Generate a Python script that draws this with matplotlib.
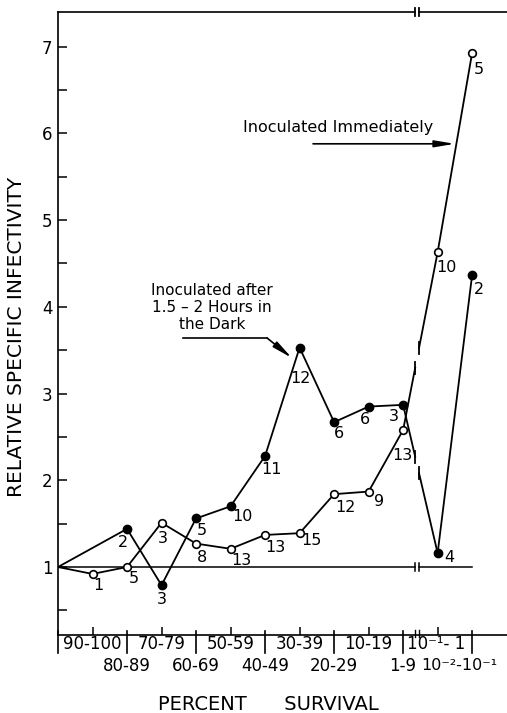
import matplotlib
matplotlib.use('Agg')
import matplotlib.pyplot as plt

# survival classes, in plotting order (index 1..12 along the x axis)
classes = ['90-100', '80-89', '70-79', '60-69', '50-59', '40-49',
           '30-39', '20-29', '10-19', '1-9', '10\u207b\u00b9- 1', '10\u207b\u00b2-10\u207b\u00b9']

# inoculated after 1.5 - 2 hours in the dark (filled dots)
dark_x = [0, 2, 3, 4, 5, 6, 7, 8, 9, 10, 11, 12]
dark_y = [1.0, 1.44, 0.79, 1.56, 1.70, 2.28, 3.53, 2.67, 2.85, 2.87, 1.16, 4.37]
dark_n = ['', '2', '3', '5', '10', '11', '12', '6', '6', '3', '4', '2']

# inoculated immediately (open circles)
imm_x = [0, 1, 2, 3, 4, 5, 6, 7, 8, 9, 10, 11, 12]
imm_y = [1.0, 0.92, 1.00, 1.51, 1.27, 1.21, 1.37, 1.39, 1.84, 1.87, 2.58, 4.63, 6.93]
imm_n = ['', '1', '5', '3', '8', '13', '13', '15', '12', '9', '13', '10', '5']

# where the number of plants sits relative to each point (pixels)
dark_off = [None, (-4, -14), (0, -14), (6, -12), (12, -10), (6, -13), (1, -31),
            (5, -11), (-4, -13), (-9, -12), (12, -4), (7, -15)]
imm_off = [None, (6, -12), (7, -11), (1, -16), (6, -14), (11, -12), (10, -13),
           (12, -7), (11, -13), (10, -10), (-1, -26), (9, -15), (7, -17)]

plt.rcParams['font.family'] = ['DejaVu Sans']

fig = plt.figure(figsize=(5.07, 7.13), dpi=100)
ax = fig.add_axes([58 / 507, 78 / 713, 449 / 507, 623 / 713])
ax.set_xlim(0, 13.01)
ax.set_ylim(0.216, 7.40)

BRK_A, BRK_B = 10.35, 10.46
lw = 1.3
xt = ax.get_xaxis_transform()

# spines: left and bottom kept, top drawn by hand with a break
ax.spines['right'].set_visible(False)
ax.spines['top'].set_visible(False)
for s in ['left', 'bottom']:
    ax.spines[s].set_linewidth(1.2)
ax.plot([0, BRK_A], [1, 1], transform=xt, color='k', lw=1.2, clip_on=False)
ax.plot([BRK_B, 13.01], [1, 1], transform=xt, color='k', lw=1.2, clip_on=False)
for bx in (BRK_A, BRK_B):
    ax.plot([bx, bx], [0.994, 1.006], transform=xt, color='k', lw=1.3, clip_on=False)
    ax.plot([bx, bx], [-0.004, 0.008], transform=xt, color='k', lw=1.0, clip_on=False)

# y ticks
ax.set_yticks(range(1, 8))
ax.set_yticklabels(['1', '2', '3', '4', '5', '6', '7'])
ax.set_yticks([0.5 + i for i in range(7)], minor=True)
ax.tick_params(axis='y', which='both', direction='in', length=6.5, width=1.1,
               labelsize=12, pad=4)

# x ticks: short inward ticks mid-class, long boundary marks drawn by hand
ax.set_xticks([])
ax.set_xticks([1, 3, 5, 7, 9, 11], minor=True)
ax.tick_params(axis='x', which='minor', direction='in', length=5.8, width=1.1)
for bx in range(0, 13, 2):
    ax.plot([bx, bx], [0.006, -0.029], transform=xt, color='k', lw=1.2, clip_on=False)

# class labels in two staggered rows
for i, lab in enumerate(classes):
    pos = i + 1
    dy = -9 if pos % 2 == 1 else -31
    if i == 10:
        # squeezed in just right of the boundary mark
        ax.annotate(lab, xy=(pos - 1, 0), xycoords=xt, xytext=(4, dy),
                    textcoords='offset pixels', ha='left', va='center',
                    fontsize=12, annotation_clip=False)
        continue
    ax.annotate(lab, xy=(pos, 0), xycoords=xt, xytext=(-13 if i == 11 else 0, dy),
                textcoords='offset pixels', ha='center', va='center',
                fontsize=12 if i < 10 else 11.5, annotation_clip=False)

# reference line at 1 with its break
ax.plot([0, BRK_A], [1, 1], color='k', lw=1.1)
ax.plot([BRK_B, 12], [1, 1], color='k', lw=1.1)
for bx in (BRK_A, BRK_B):
    ax.plot([bx, bx], [0.955, 1.045], color='k', lw=1.1)


def broken_line(x, y, i, **kw):
    """Draw x/y as a polyline, with the segment i -> i+1 broken at the axis break."""
    ax.plot(x[:i + 1], y[:i + 1], **kw)
    ax.plot(x[i + 1:], y[i + 1:], **kw)
    x0, y0, x1, y1 = x[i], y[i], x[i + 1], y[i + 1]
    ya = y0 + (y1 - y0) * (BRK_A - x0) / (x1 - x0)
    yb = y0 + (y1 - y0) * (BRK_B - x0) / (x1 - x0)
    ax.plot([x0, BRK_A], [y0, ya], **kw)
    ax.plot([BRK_B, x1], [yb, y1], **kw)
    for bx, by in ((BRK_A, ya), (BRK_B, yb)):
        ax.plot([bx, bx], [by - 0.07, by + 0.07], **kw)


broken_line(dark_x, dark_y, dark_x.index(10), color='k', lw=lw)
broken_line(imm_x, imm_y, imm_x.index(10), color='k', lw=lw)

ax.plot(dark_x[1:], dark_y[1:], 'o', ms=6, color='k', zorder=5)
ax.plot(imm_x[1:], imm_y[1:], 'o', ms=5.5, mfc='white', mec='k', mew=1.2, zorder=5)

for x, y, n, off in zip(dark_x, dark_y, dark_n, dark_off):
    if n:
        ax.annotate(n, (x, y), xytext=off, textcoords='offset pixels',
                    ha='center', va='center', fontsize=11.5)
for x, y, n, off in zip(imm_x, imm_y, imm_n, imm_off):
    if n:
        ax.annotate(n, (x, y), xytext=off, textcoords='offset pixels',
                    ha='center', va='center', fontsize=11.5)

# series captions
arrow = dict(arrowstyle='-|>,head_length=0.6,head_width=0.1',
             lw=1.2, color='k', mutation_scale=20, shrinkA=0, shrinkB=0)
ax.text(8.12, 6.07, 'Inoculated Immediately', ha='center', va='center', fontsize=11.5)
ax.annotate('', xy=(11.5, 5.88), xytext=(7.39, 5.88), arrowprops=arrow)

ax.text(4.46, 3.99, 'Inoculated after\n1.5 \u2013 2 Hours in\nthe Dark',
        ha='center', va='center', fontsize=11, linespacing=1.15)
ax.plot([3.62, 6.06], [3.64, 3.64], color='k', lw=1.2)
ax.annotate('', xy=(6.78, 3.41), xytext=(6.06, 3.64), arrowprops=arrow)

fig.text(17 / 507, 1 - 337 / 713, 'RELATIVE SPECIFIC INFECTIVITY',
         rotation=90, ha='center', va='center', fontsize=14.5)
fig.text(268 / 507, 1 - 705 / 713, 'PERCENT      SURVIVAL',
         ha='center', va='center', fontsize=14)

fig.savefig('out.png', dpi=100)
